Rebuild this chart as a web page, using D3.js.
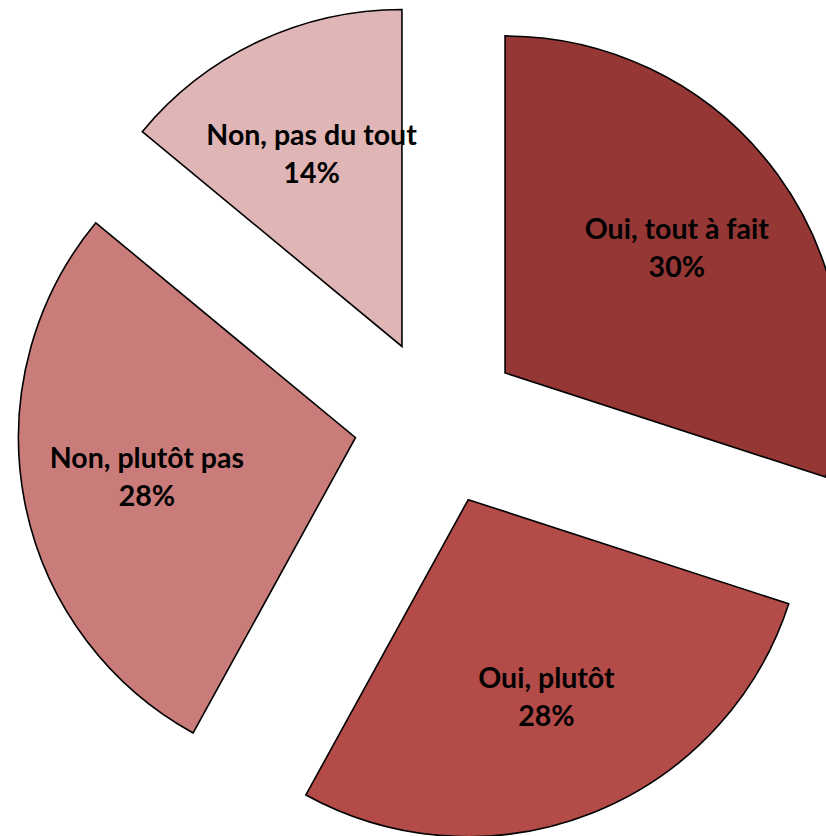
<!DOCTYPE html>
<html><head><meta charset="utf-8">
<script src="https://cdn.jsdelivr.net/npm/d3@7/dist/d3.min.js"></script>
<style>body{margin:0;background:#fff;}svg{display:block;}</style>
</head><body>
<script>
const categories = ["Oui, tout à fait", "Oui, plutôt", "Non, plutôt pas", "Non, pas du tout"];
const values = [30, 28, 28, 14];
const labels = ["30%", "28%", "28%", "14%"];
const colors = ["#953735", "#B34B48", "#C97C7A", "#DFB5B5"];

const W = 826, H = 836;
const cx = 437.5, cy = 422, R = 337, explode = 83.5;

const svg = d3.select("body").append("svg").attr("width", W).attr("height", H);
const pie = d3.pie().sort(null).value(d => d)(values);
const arc = d3.arc().innerRadius(0).outerRadius(R);
const labelArc = d3.arc().innerRadius(R * 0.63).outerRadius(R * 0.63);

const g = svg.append("g").attr("transform", `translate(${cx},${cy})`);
const slices = g.selectAll("g.slice").data(pie).enter().append("g")
  .attr("class", "slice")
  .attr("transform", d => {
    const m = (d.startAngle + d.endAngle) / 2;
    return `translate(${explode * Math.sin(m)},${-explode * Math.cos(m)})`;
  });
slices.append("path").attr("d", arc)
  .attr("fill", (d, i) => colors[i])
  .attr("stroke", "#000").attr("stroke-width", 1.6).attr("stroke-linejoin", "miter");

const t = slices.append("text")
  .attr("transform", d => `translate(${labelArc.centroid(d)})`)
  .attr("text-anchor", "middle")
  .attr("font-family", "Lato, 'Open Sans', sans-serif")
  .attr("font-weight", "bold")
  .attr("font-size", 28.5)
  .attr("fill", "#000");
t.append("tspan").attr("x", 0).attr("dy", "-0.32em").text((d, i) => categories[i]);
t.append("tspan").attr("x", 0).attr("dy", "1.33em").text((d, i) => labels[i]);
</script>
</body></html>
